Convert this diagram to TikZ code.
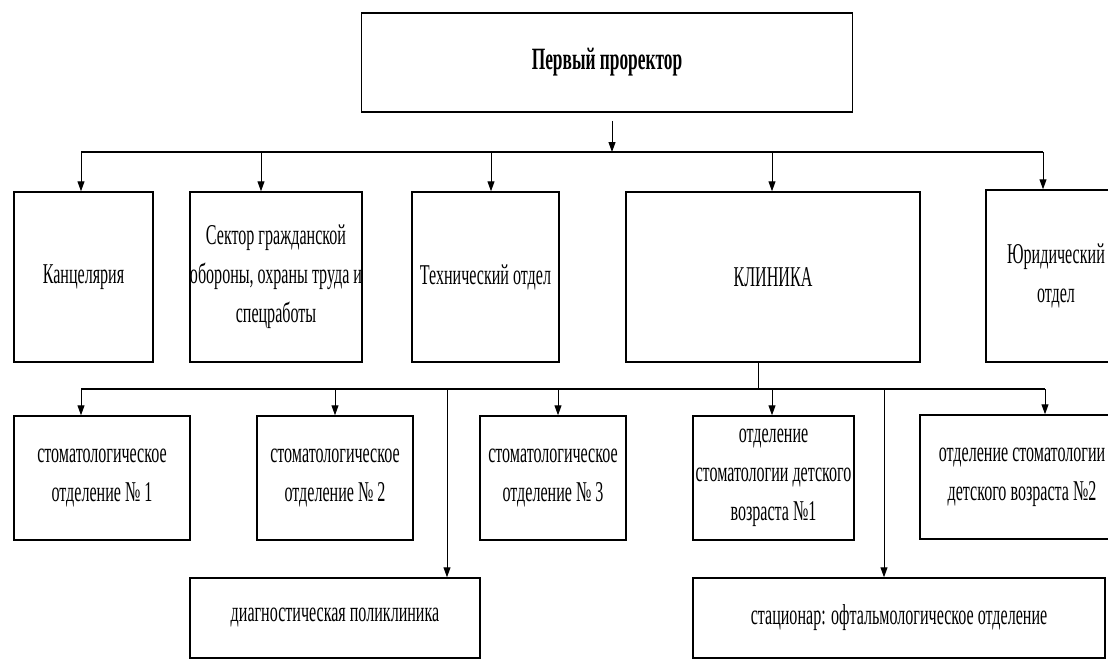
\documentclass[tikz,border=0pt]{standalone}
\usepackage{fontspec}
\setmainfont[FakeStretch=0.56]{Liberation Serif}
\usetikzlibrary{arrows.meta}

\tikzset{
  box/.style={draw,line width=1.5pt,inner sep=0pt,align=center,
    font=\fontsize{28.7}{39}\selectfont},
  link/.style={line width=1pt,-{Triangle[length=10pt,width=7pt]}},
  bus/.style={line width=1.2pt}
}

\begin{document}
\begin{tikzpicture}[x=1pt,y=-1pt]
    \useasboundingbox (0,0) rectangle (1108,659);
    \clip (0,0) rectangle (1108,659);

    % Head
    \node[box,line width=1.8pt,minimum width=491pt,minimum height=99pt,
      font=\bfseries\fontsize{31}{36}\selectfont] (head) at (607,62.5) {Первый проректор};

    % First row
    \node[box,minimum width=139pt,minimum height=170pt] (kanc) at (83.5,277) {Канцелярия};
    \node[box,minimum width=172pt,minimum height=170pt] (sekt) at (276,277)
      {Сектор гражданской\\обороны, охраны труда и\\спецработы};
    \node[box,minimum width=147pt,minimum height=170pt] (tekh) at (485.5,277) {Технический отдел};
    \node[box,minimum width=294pt,minimum height=170pt] (klin) at (773,277) {КЛИНИКА};
    \node[box,minimum width=140pt,minimum height=172pt] (yur) at (1056,276) {Юридический\\отдел};

    % Second row
    \node[box,minimum width=176pt,minimum height=124pt] (st1) at (102,478)
      {стоматологическое\\отделение № 1};
    \node[box,minimum width=156pt,minimum height=124pt] (st2) at (335,478)
      {стоматологическое\\отделение № 2};
    \node[box,minimum width=146pt,minimum height=124pt] (st3) at (553,478)
      {стоматологическое\\отделение № 3};
    \node[box,minimum width=161pt,minimum height=124pt] (det1) at (773.5,478)
      {отделение\\стоматологии детского\\возраста №1};
    \node[box,minimum width=204pt,minimum height=124pt] (det2) at (1022,477)
      {отделение стоматологии\\детского возраста №2};

    % Bottom row
    \node[box,minimum width=290pt,minimum height=80pt] (diag) at (335,618)
      {диагностическая поликлиника};
    \node[box,minimum width=412pt,minimum height=80pt] (stac) at (899,618)
      {стационар: офтальмологическое отделение};

    % Upper bus
    \coordinate (b1w) at (81,152);
    \coordinate (b1e) at (1043,152);
    \draw[bus] (b1w) -- (b1e);
    \draw[link] ([xshift=5pt,yshift=-8pt]head.south) -- ([xshift=5pt]head.south |- b1w);
    \foreach \x/\n in {81/kanc,261/sekt,491/tekh,772/klin,1043/yur} {
      \coordinate (d\n) at (\x,152);
      \draw[link] (d\n) -- (d\n |- \n.north);
    }

    % Lower bus
    \coordinate (b2w) at (81,389);
    \coordinate (b2e) at (1045,389);
    \draw[bus] (b2w) -- (b2e);
    \draw[line width=1pt] ([xshift=-15pt]klin.south) -- ([xshift=-15pt]klin.south |- b2w);
    \foreach \x/\n in {81/st1,335/st2,558/st3,772/det1,1045/det2,447/diag,884/stac} {
      \coordinate (d\n) at (\x,389);
      \draw[link] (d\n) -- (d\n |- \n.north);
    }
\end{tikzpicture}
\end{document}
